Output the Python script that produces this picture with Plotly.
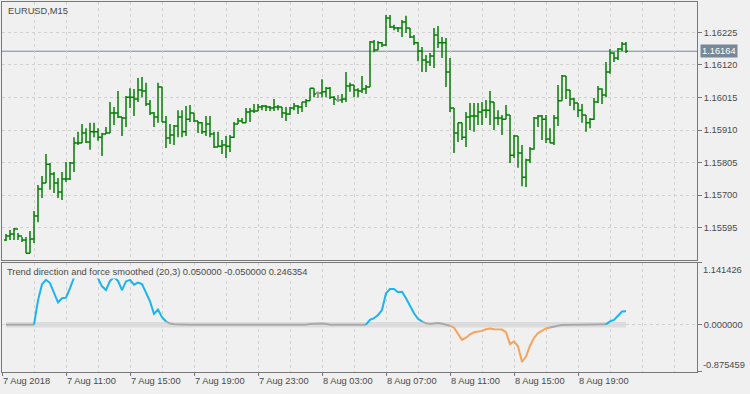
import pandas as pd
import plotly.graph_objects as go

# ---------------- data ----------------
start_time = "2018-08-07 07:15"

open_ = [1.15555,1.15568,1.15575,1.15591,1.15568,1.15555,1.15513,1.15559,1.15633,1.15720,
         1.15739,1.15800,1.15768,1.15739,1.15710,1.15752,1.15752,1.15804,1.15868,1.15868,
         1.15900,1.15871,1.15904,1.15904,1.15887,1.15897,1.15900,1.15965,1.15965,1.15952,
         1.15949,1.16016,1.16016,1.16010,1.16039,1.16036,1.15994,1.15965,1.15952,1.16049,
         1.15936,1.15884,1.15894,1.15923,1.15952,1.15904,1.15945,1.15965,1.15939,1.15933,
         1.15904,1.15929,1.15897,1.15855,1.15858,1.15862,1.15858,1.15887,1.15929,1.15939,
         1.15933,1.15968,1.15971,1.15971,1.15984,1.15987,1.15984,1.15981,1.15984,1.15984,
         1.15965,1.15962,1.15981,1.15987,1.15984,1.16000,1.16004,1.16045,1.16029,1.16029,
         1.16033,1.16045,1.16016,1.16007,1.16007,1.16010,1.16052,1.16055,1.16039,1.16036,
         1.16042,1.16049,1.16194,1.16168,1.16191,1.16184,1.16271,1.16242,1.16239,1.16239,
         1.16258,1.16239,1.16210,1.16191,1.16165,1.16136,1.16129,1.16149,1.16216,1.16191,
         1.16191,1.16097,1.15981,1.15900,1.15933,1.15887,1.15952,1.15955,1.15955,1.15968,
         1.15974,1.15974,1.16000,1.15949,1.15949,1.15945,1.15958,1.15829,1.15891,1.15836,
         1.15758,1.15813,1.15849,1.15949,1.15955,1.15945,1.15881,1.15868,1.15949,1.16004,
         1.16084,1.16039,1.16010,1.15997,1.15974,1.15958,1.15933,1.15945,1.16000,1.16042,
         1.16023,1.16097,1.16158,1.16142,1.16171,1.16187]

high = [1.15575,1.15588,1.15594,1.15578,1.15565,1.15565,1.15584,1.15649,1.15733,1.15762,
        1.15833,1.15804,1.15775,1.15755,1.15775,1.15807,1.15807,1.15887,1.15904,1.15929,
        1.15916,1.15933,1.15933,1.15916,1.15900,1.15920,1.16000,1.15984,1.16036,1.15952,
        1.16020,1.16045,1.16042,1.16078,1.16081,1.16062,1.16007,1.15968,1.16062,1.16049,
        1.15955,1.15929,1.15926,1.15974,1.15974,1.15987,1.15991,1.15965,1.15939,1.15936,
        1.15955,1.15955,1.15904,1.15904,1.15878,1.15891,1.15894,1.15936,1.15949,1.15949,
        1.15981,1.15981,1.15994,1.15994,1.15991,1.15991,1.15987,1.16010,1.15991,1.15984,
        1.15984,1.15984,1.15997,1.15991,1.16000,1.16010,1.16045,1.16045,1.16033,1.16074,
        1.16049,1.16049,1.16020,1.16023,1.16026,1.16097,1.16062,1.16055,1.16045,1.16084,
        1.16055,1.16197,1.16200,1.16197,1.16194,1.16281,1.16281,1.16249,1.16242,1.16265,
        1.16278,1.16239,1.16216,1.16194,1.16178,1.16152,1.16158,1.16239,1.16245,1.16210,
        1.16207,1.16142,1.15981,1.15933,1.15933,1.15968,1.15997,1.15997,1.15997,1.16000,
        1.16007,1.16036,1.16000,1.15974,1.15958,1.15991,1.15958,1.15894,1.15891,1.15862,
        1.15817,1.15855,1.15952,1.15958,1.15958,1.15958,1.15916,1.15958,1.16055,1.16087,
        1.16084,1.16039,1.16013,1.15997,1.15994,1.15958,1.15949,1.16013,1.16052,1.16045,
        1.16129,1.16171,1.16161,1.16174,1.16194,1.16194]

low = [1.15552,1.15555,1.15555,1.15555,1.15549,1.15513,1.15513,1.15546,1.15613,1.15691,
       1.15739,1.15717,1.15707,1.15691,1.15684,1.15742,1.15749,1.15775,1.15862,1.15868,
       1.15868,1.15846,1.15887,1.15875,1.15826,1.15897,1.15900,1.15926,1.15949,1.15891,
       1.15920,1.15981,1.15955,1.16000,1.16016,1.15987,1.15958,1.15920,1.15933,1.15936,
       1.15852,1.15865,1.15862,1.15887,1.15887,1.15891,1.15936,1.15936,1.15900,1.15897,
       1.15891,1.15887,1.15852,1.15855,1.15833,1.15820,1.15839,1.15884,1.15929,1.15933,
       1.15933,1.15936,1.15965,1.15971,1.15974,1.15971,1.15971,1.15971,1.15974,1.15949,
       1.15939,1.15958,1.15974,1.15962,1.15968,1.15984,1.16004,1.16016,1.16013,1.16016,
       1.16016,1.16010,1.15991,1.16000,1.15997,1.16000,1.16033,1.16016,1.16016,1.16029,
       1.16026,1.16049,1.16161,1.16168,1.16178,1.16181,1.16239,1.16232,1.16226,1.16210,
       1.16223,1.16207,1.16184,1.16132,1.16097,1.16097,1.16116,1.16110,1.16174,1.16142,
       1.16049,1.15968,1.15836,1.15871,1.15878,1.15855,1.15910,1.15904,1.15926,1.15926,
       1.15949,1.15926,1.15910,1.15926,1.15894,1.15945,1.15804,1.15820,1.15788,1.15729,
       1.15726,1.15804,1.15846,1.15920,1.15878,1.15868,1.15868,1.15862,1.15923,1.16004,
       1.16010,1.15987,1.15974,1.15952,1.15933,1.15904,1.15916,1.15942,1.15997,1.15994,
       1.16016,1.16091,1.16129,1.16136,1.16165,1.16158]

close = [1.15568,1.15575,1.15591,1.15568,1.15555,1.15513,1.15559,1.15633,1.15720,1.15739,
         1.15800,1.15768,1.15739,1.15710,1.15752,1.15752,1.15804,1.15868,1.15868,1.15900,
         1.15871,1.15904,1.15904,1.15887,1.15897,1.15900,1.15965,1.15965,1.15952,1.15949,
         1.16016,1.16016,1.16010,1.16039,1.16036,1.15994,1.15965,1.15952,1.16049,1.15936,
         1.15884,1.15894,1.15923,1.15952,1.15904,1.15945,1.15965,1.15939,1.15933,1.15904,
         1.15929,1.15897,1.15855,1.15858,1.15862,1.15858,1.15887,1.15929,1.15939,1.15933,
         1.15968,1.15971,1.15971,1.15984,1.15987,1.15984,1.15981,1.15984,1.15984,1.15965,
         1.15962,1.15981,1.15987,1.15984,1.16000,1.16004,1.16045,1.16026,1.16029,1.16033,
         1.16045,1.16016,1.16010,1.16007,1.16010,1.16052,1.16055,1.16039,1.16036,1.16042,
         1.16049,1.16194,1.16168,1.16191,1.16184,1.16271,1.16242,1.16239,1.16239,1.16258,
         1.16239,1.16210,1.16191,1.16165,1.16136,1.16129,1.16149,1.16216,1.16191,1.16191,
         1.16097,1.15981,1.15900,1.15933,1.15887,1.15952,1.15955,1.15955,1.15968,1.15974,
         1.15974,1.16000,1.15949,1.15949,1.15945,1.15958,1.15829,1.15891,1.15836,1.15758,
         1.15813,1.15849,1.15949,1.15955,1.15945,1.15881,1.15868,1.15949,1.16004,1.16084,
         1.16039,1.16010,1.15997,1.15974,1.15958,1.15933,1.15945,1.16000,1.16042,1.16023,
         1.16097,1.16158,1.16142,1.16171,1.16187,1.16164]

doji_bars = [78, 83]

trend = [0.0,0.0,0.0,0.0,0.0,0.0,0.0,0.0,0.45,0.75,
         0.83,0.77,0.58,0.41,0.49,0.50,0.675,0.87,0.95,0.97,
         0.88,0.93,0.92,0.86,0.71,0.64,0.81,0.88,0.81,0.64,
         0.80,0.83,0.74,0.78,0.75,0.58,0.43,0.20,0.28,0.14,
         0.06,0.02,0.01,0.005,0.0,0.0,0.0,0.0,0.0,0.0,
         0.0,0.0,0.0,0.0,0.0,0.0,0.0,0.0,0.0,0.0,
         0.0,0.0,0.0,0.0,0.0,0.0,0.0,0.0,0.0,0.0,
         0.0,0.0,0.0,0.0,0.0,0.0,0.015,0.02,0.02,0.02,
         0.015,0.0,0.0,0.0,0.0,0.0,0.0,0.0,0.0,0.0,
         0.0,0.09,0.12,0.18,0.27,0.58,0.66,0.66,0.60,0.61,
         0.49,0.34,0.21,0.11,0.06,0.025,0.013,0.018,0.03,0.018,
         0.006,-0.018,-0.055,-0.17,-0.28,-0.24,-0.18,-0.14,-0.125,-0.115,
         -0.085,-0.07,-0.085,-0.09,-0.09,-0.14,-0.36,-0.31,-0.40,-0.69,
         -0.59,-0.39,-0.245,-0.155,-0.11,-0.07,-0.052,-0.03,-0.018,-0.006,
         0.0,0.0,0.0,0.0,0.0,0.0,0.0,0.0,0.0,0.0,
         0.006,0.06,0.09,0.17,0.245,0.246354]

levels = [0.05, -0.05]
ind_min, ind_max = -0.875459, 1.141426

price_ticks = [1.15595, 1.15700, 1.15805, 1.15910, 1.16015, 1.16120, 1.16225]
time_tick_vals = ["2018-08-07 07:00", "2018-08-07 11:00", "2018-08-07 15:00", "2018-08-07 19:00",
                  "2018-08-07 23:00", "2018-08-08 03:00", "2018-08-08 07:00", "2018-08-08 11:00",
                  "2018-08-08 15:00", "2018-08-08 19:00"]
time_tick_text = ["7 Aug 2018", "7 Aug 11:00", "7 Aug 15:00", "7 Aug 19:00", "7 Aug 23:00",
                  "8 Aug 03:00", "8 Aug 07:00", "8 Aug 11:00", "8 Aug 15:00", "8 Aug 19:00"]

# ---------------- style ----------------
BG = "#f0f0f0"
FRAME = "#787878"
GRID = "#d0d0d0"
TXT = "#4a4a4a"
BAR = "#008000"
FONT = "Liberation Sans"
FS = 9.3
BLUE, ORANGE, GRAY = "#1ab4f0", "#f4a460", "#a9a9a9"

dates = pd.date_range(start_time, periods=len(close), freq="15min")
x_range = ["2018-08-07 07:00", "2018-08-09 02:26:15"]

fig = go.Figure()

fig.add_trace(go.Ohlc(
    x=dates, open=open_, high=high, low=low, close=close,
    increasing=dict(line=dict(color=BAR, width=1.5)),
    decreasing=dict(line=dict(color=BAR, width=1.5)),
    tickwidth=0.5, showlegend=False, hoverinfo="skip", xaxis="x", yaxis="y"))

fig.add_trace(go.Ohlc(
    x=[dates[i] for i in doji_bars], open=[open_[i] for i in doji_bars],
    high=[high[i] for i in doji_bars], low=[low[i] for i in doji_bars],
    close=[close[i] for i in doji_bars],
    increasing=dict(line=dict(color="#a0a0a0", width=1.5)),
    decreasing=dict(line=dict(color="#a0a0a0", width=1.5)),
    tickwidth=0.5, showlegend=False, hoverinfo="skip", xaxis="x", yaxis="y"))

# level band
fig.add_trace(go.Scatter(x=dates, y=[levels[0]] * len(dates), mode="lines",
                         line=dict(width=0, color="#dcdcdc"), showlegend=False,
                         hoverinfo="skip", xaxis="x2", yaxis="y2"))
fig.add_trace(go.Scatter(x=dates, y=[levels[1]] * len(dates), mode="lines",
                         line=dict(width=0, color="#dcdcdc"), fill="tonexty",
                         fillcolor="#dcdcdc", showlegend=False,
                         hoverinfo="skip", xaxis="x2", yaxis="y2"))


def state(v):
    if v > levels[0]:
        return "up"
    if v < levels[1]:
        return "down"
    return "flat"


runs = {"up": ([], []), "down": ([], []), "flat": ([], [])}
cur = None
for i in range(1, len(trend)):
    s = state(trend[i])
    xs, ys = runs[s]
    if s != cur:
        if xs:
            xs.append(None)
            ys.append(None)
        xs.extend([dates[i - 1], dates[i]])
        ys.extend([trend[i - 1], trend[i]])
    else:
        xs.append(dates[i])
        ys.append(trend[i])
    cur = s

for key, col in [("flat", GRAY), ("down", ORANGE), ("up", BLUE)]:
    xs, ys = runs[key]
    fig.add_trace(go.Scatter(x=xs, y=ys, mode="lines", line=dict(color=col, width=2),
                             connectgaps=False, showlegend=False, hoverinfo="skip",
                             xaxis="x2", yaxis="y2"))

grid_minor = dict(tickmode="linear", tick0="2018-08-07 09:00", dtick=7200000,
                  showgrid=True, gridcolor=GRID, griddash="3px,3px", gridwidth=1, ticks="")

top_dom = [0.3027, 1.0]
bot_dom = [0.0, 0.2946]

fig.update_layout(
    width=750, height=394,
    margin=dict(l=2, r=53, t=2, b=22),
    paper_bgcolor=BG, plot_bgcolor=BG,
    font=dict(family=FONT, size=FS, color=TXT),
    showlegend=False,
    xaxis=dict(domain=[0, 1], anchor="y", range=x_range, matches="x2",
               showticklabels=False, ticks="", showgrid=False, minor=grid_minor,
               showline=True, mirror=True, linecolor=FRAME, linewidth=1,
               rangeslider=dict(visible=False), zeroline=False),
    yaxis=dict(domain=top_dom, anchor="x", side="right", range=[1.154909, 1.163227],
               tickmode="array", tickvals=price_ticks,
               ticktext=[f"{v:.5f}" for v in price_ticks],
               ticks="outside", ticklen=4, tickcolor=FRAME,
               showgrid=True, gridcolor=GRID, griddash="3px,3px",
               showline=True, mirror=True, linecolor=FRAME, linewidth=1, zeroline=False),
    xaxis2=dict(domain=[0, 1], anchor="y2", range=x_range,
                tickmode="array", tickvals=time_tick_vals, ticktext=time_tick_text,
                ticks="outside", ticklen=3, tickcolor=FRAME,
                ticklabelposition="outside right",
                showgrid=False, minor=grid_minor,
                showline=True, mirror=True, linecolor=FRAME, linewidth=1,
                rangeslider=dict(visible=False), zeroline=False),
    yaxis2=dict(domain=bot_dom, anchor="x2", side="right", range=[ind_min, ind_max],
                tickmode="array", tickvals=[ind_min, 0.0, ind_max],
                ticktext=["", "0.000000", ""],
                ticks="outside", ticklen=4, tickcolor=FRAME,
                showgrid=True, gridcolor=GRID, griddash="3px,3px",
                showline=True, mirror=True, linecolor=FRAME, linewidth=1, zeroline=False),
)

# current price line and label
fig.add_shape(type="line", xref="x domain", yref="y", x0=0, x1=1,
              y0=close[-1], y1=close[-1], line=dict(color="#778899", width=1), layer="below")
fig.add_annotation(xref="paper", yref="y", x=1, y=close[-1], xanchor="left", yanchor="middle",
                   xshift=3, text=f"{close[-1]:.5f}", showarrow=False,
                   bgcolor="#778899", font=dict(color="white", family=FONT, size=FS), borderpad=1)

# indicator scale labels
fig.add_annotation(xref="paper", yref="y2 domain", x=1, y=1, xanchor="left", yanchor="top",
                   xshift=4, text=f"{ind_max:.6f}", showarrow=False)
fig.add_annotation(xref="paper", yref="y2 domain", x=1, y=0, xanchor="left", yanchor="bottom",
                   xshift=4, text=f"{ind_min:.6f}", showarrow=False)

# titles
fig.add_annotation(xref="paper", yref="paper", x=0, y=1, xanchor="left", yanchor="top",
                   xshift=4, yshift=-2, text="EURUSD,M15", showarrow=False)
fig.add_annotation(xref="paper", yref="y2 domain", x=0, y=1, xanchor="left", yanchor="top",
                   xshift=3, yshift=-2,
                   text=f"Trend direction and force smoothed (20,3) {levels[0]:.6f} {levels[1]:.6f} {trend[-1]:.6f}",
                   showarrow=False, bgcolor=BG, borderpad=1)

fig.write_html("out.html")
